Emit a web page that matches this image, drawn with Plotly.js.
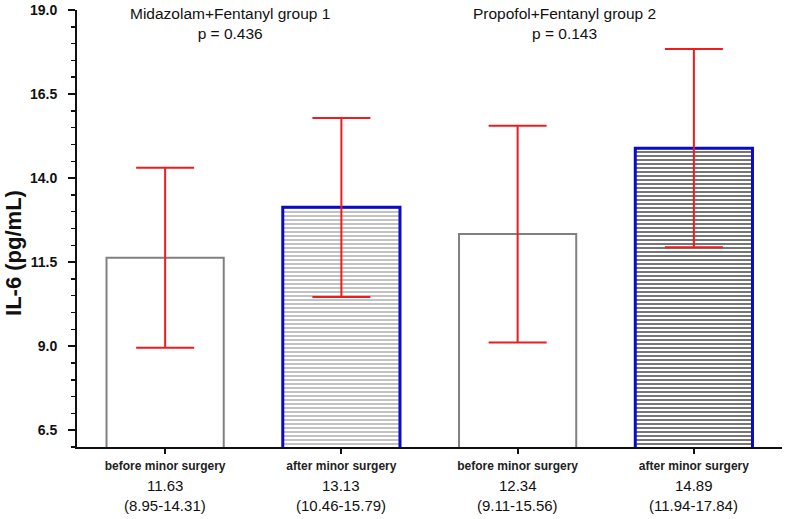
<!DOCTYPE html>
<html>
<head>
<meta charset="utf-8">
<script src="https://cdn.plot.ly/plotly-3.0.1.min.js"></script>
<style>html,body{margin:0;padding:0;background:#fff;}#chart{width:787px;height:519px;}</style>
</head>
<body>
<div id="chart"></div>
<script>
// ---- data ----
const categories = ["before minor surgery", "after minor surgery", "before minor surgery", "after minor surgery"];
const medians = [11.63, 13.13, 12.34, 14.89];
const lowerCI = [8.95, 10.46, 9.11, 11.94];
const upperCI = [14.31, 15.79, 15.56, 17.84];
const groupTitles = ["Midazolam+Fentanyl group 1", "Propofol+Fentanyl group 2"];
const pValues = ["0.436", "0.143"];
const yTicks = [6.5, 9.0, 11.5, 14.0, 16.5, 19.0];
const yTitle = "IL-6 (pg/mL)";

// ---- styles ----
const FONT = "Arial, 'Liberation Sans', Helvetica, sans-serif";
const xIdx = categories.map((_, i) => i);
const isAfter = categories.map(c => c.startsWith("after"));

const trace = {
  type: "bar",
  x: xIdx,
  y: medians,
  width: 0.665,
  marker: {
    color: "#ffffff",
    line: {
      color: isAfter.map(a => a ? "#0a0ac8" : "#808080"),
      width: isAfter.map(a => a ? 3 : 2)
    },
    pattern: {
      shape: isAfter.map(a => a ? "-" : ""),
      fgcolor: isAfter.map((a, i) => i === 3 ? "#3a3a3a" : "#a8a8a8"),
      bgcolor: "#ffffff",
      size: 4,
      solidity: 0.35,
      fillmode: "replace"
    }
  },
  error_y: {
    type: "data",
    symmetric: false,
    array: upperCI.map((u, i) => u - medians[i]),
    arrayminus: lowerCI.map((l, i) => medians[i] - l),
    color: "#ee1c1c",
    thickness: 2,
    width: 29
  },
  hoverinfo: "skip",
  showlegend: false
};

const annotations = [];
groupTitles.forEach((t, g) => {
  annotations.push({
    xref: "paper", yref: "paper",
    x: g === 0 ? 0.217 : 0.691, y: 1, xanchor: "center", yanchor: "top", yshift: 7,
    text: t + "<br>p = " + pValues[g],
    showarrow: false,
    font: {family: FONT, size: 15.5, color: "#111"},
    align: "center"
  });
});
xIdx.forEach(i => {
  annotations.push({
    xref: "x", yref: "paper", x: i, y: 0, xanchor: "center", yanchor: "middle", yshift: -38,
    text: medians[i].toFixed(2), showarrow: false,
    font: {family: FONT, size: 15, color: "#111"}
  });
  annotations.push({
    xref: "x", yref: "paper", x: i, y: 0, xanchor: "center", yanchor: "middle", yshift: -58,
    text: "(" + lowerCI[i].toFixed(2) + "-" + upperCI[i].toFixed(2) + ")", showarrow: false,
    font: {family: FONT, size: 15, color: "#111"}
  });
});
annotations.push({
  xref: "paper", yref: "paper", x: -0.0894, y: 0.444,
  xanchor: "center", yanchor: "middle",
  text: "<b>" + yTitle + "</b>", textangle: -90, showarrow: false,
  font: {family: FONT, size: 22, color: "#111"}
});

const layout = {
  width: 787, height: 519,
  margin: {l: 77, r: 5, t: 10, b: 72},
  paper_bgcolor: "#ffffff",
  plot_bgcolor: "#ffffff",
  font: {family: FONT, color: "#111"},
  xaxis: {
    range: [-0.5, 3.5],
    tickmode: "array",
    tickvals: xIdx,
    ticktext: categories.map(c => "<b>" + c + "</b>"),
    tickfont: {family: FONT, size: 12, color: "#222"},
    ticks: "outside", ticklen: 5, tickwidth: 2, tickcolor: "#111",
    ticklabelstandoff: 2,
    showline: true, linecolor: "#111", linewidth: 2,
    showgrid: false, zeroline: false, fixedrange: true
  },
  yaxis: {
    range: [6.0, 19.0],
    tickmode: "array",
    tickvals: yTicks,
    ticktext: yTicks.map(v => "<b>" + v.toFixed(1) + "</b>"),
    tickfont: {family: FONT, size: 14, color: "#111"},
    ticks: "outside", ticklen: 7, tickwidth: 2, tickcolor: "#111",
    ticklabelstandoff: 8,
    minor: {tick0: 6.5, dtick: 0.5, ticks: "outside", ticklen: 4, tickwidth: 1.5, tickcolor: "#111", showgrid: false},
    showline: true, linecolor: "#111", linewidth: 2,
    showgrid: false, zeroline: false, fixedrange: true
  },
  annotations: annotations,
  bargap: 0.335
};

Plotly.newPlot("chart", [trace], layout, {displayModeBar: false, staticPlot: true});
</script>
</body>
</html>
